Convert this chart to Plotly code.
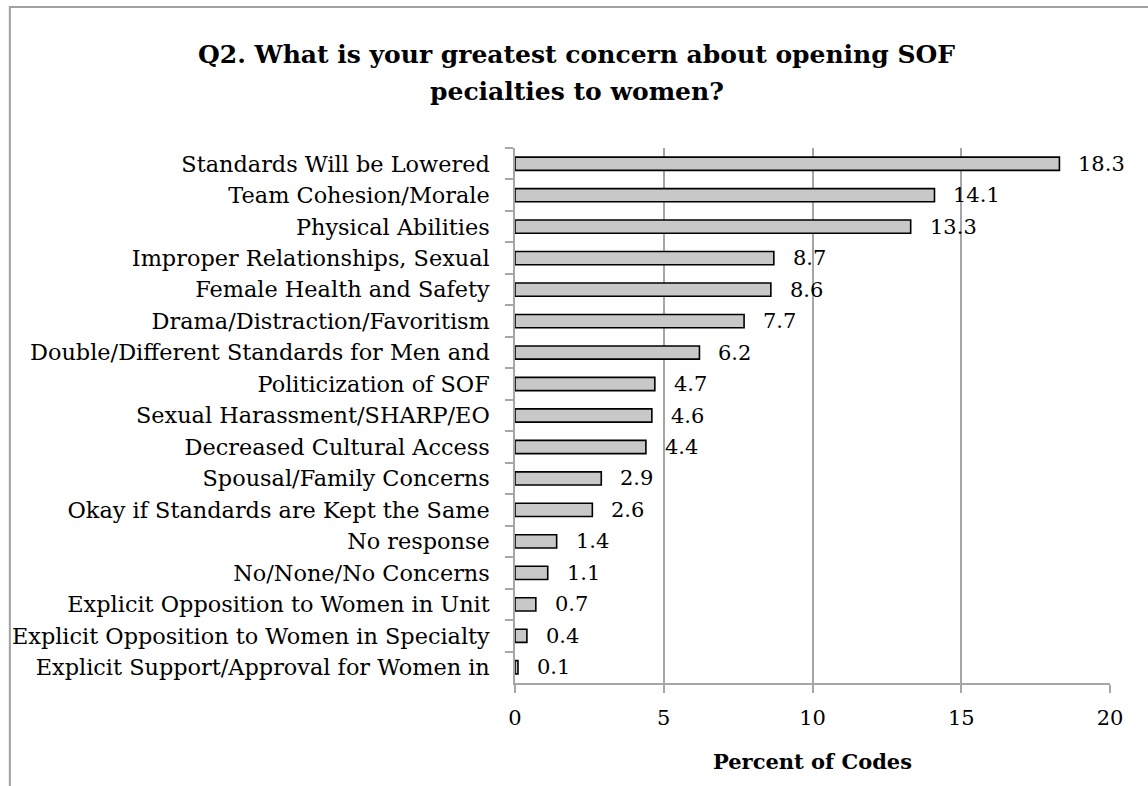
import plotly.graph_objects as go

categories = [
    "Standards Will be Lowered",
    "Team Cohesion/Morale",
    "Physical Abilities",
    "Improper Relationships, Sexual",
    "Female Health and Safety",
    "Drama/Distraction/Favoritism",
    "Double/Different Standards for Men and",
    "Politicization of SOF",
    "Sexual Harassment/SHARP/EO",
    "Decreased Cultural Access",
    "Spousal/Family Concerns",
    "Okay if Standards are Kept the Same",
    "No response",
    "No/None/No Concerns",
    "Explicit Opposition to Women in Unit",
    "Explicit Opposition to Women in Specialty",
    "Explicit Support/Approval for Women in",
]
values = [18.3, 14.1, 13.3, 8.7, 8.6, 7.7, 6.2, 4.7, 4.6, 4.4, 2.9, 2.6, 1.4, 1.1, 0.7, 0.4, 0.1]
value_labels = [f"{v:.1f}" for v in values]
x_ticks = [0, 5, 10, 15, 20]
title_lines = ["Q2. What is your greatest concern about opening SOF", "pecialties to women?"]

FONT = "DejaVu Serif"
GRID = "#a6a6a6"

fig = go.Figure()
fig.add_trace(go.Bar(
    y=categories, x=values, orientation="h",
    width=0.42,
    marker=dict(color="#c8c8c8", line=dict(color="black", width=1.6)),
    hoverinfo="skip",
))

for c, v, t in zip(categories, values, value_labels):
    fig.add_annotation(x=v, y=c, text=t, showarrow=False, xanchor="left",
                       xshift=17, font=dict(family=FONT, size=21, color="black"))

# two-line title as paper annotations (for exact line spacing)
for line, ypos in zip(title_lines, [1.174, 1.105]):
    fig.add_annotation(xref="paper", yref="paper", x=0.104, y=ypos,
                       text=f"<b>{line}</b>", showarrow=False,
                       xanchor="center", yanchor="middle",
                       font=dict(family=FONT, size=25, color="black"))

fig.add_shape(type="rect", xref="paper", yref="paper",
              x0=-0.849, x1=1.2, y0=-0.5, y1=1.2636,
              line=dict(color="#a0a0a0", width=2), fillcolor="rgba(0,0,0,0)", layer="below")

fig.update_layout(
    width=1148, height=786,
    margin=dict(l=513, r=38, t=148, b=103),
    paper_bgcolor="white", plot_bgcolor="white",
    showlegend=False,
    font=dict(family=FONT, size=22.4, color="black"),
    xaxis=dict(
        range=[0, 20], tickvals=x_ticks, ticktext=[str(t) for t in x_ticks],
        showgrid=True, gridcolor=GRID, gridwidth=1.5,
        showline=True, linecolor=GRID, linewidth=1.5,
        ticks="outside", ticklen=8, tickcolor=GRID, tickwidth=1.5,
        ticklabelstandoff=7, zeroline=False,
        tickfont=dict(size=21),
        title=dict(text="<b>Percent of Codes</b>", font=dict(family=FONT, size=21), standoff=25),
    ),
    yaxis=dict(
        autorange="reversed", type="category",
        showline=True, linecolor=GRID, linewidth=1.5,
        ticks="outside", ticklen=8, tickcolor=GRID, tickwidth=1.5,
        tickson="boundaries", ticklabelstandoff=19, showgrid=False,
    ),
)

fig.write_html("out.html", config={"displayModeBar": False},
               post_script="document.body.style.margin='0';document.body.style.overflow='hidden';")
